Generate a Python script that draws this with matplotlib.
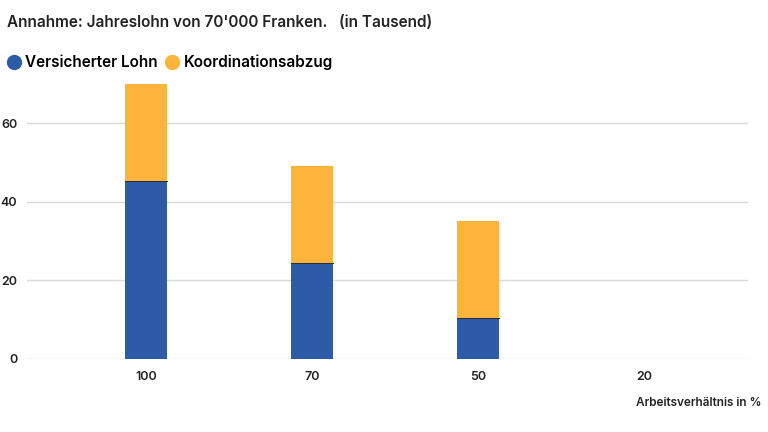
import matplotlib.pyplot as plt
from matplotlib.lines import Line2D

plt.rcParams['font.family'] = ['Inter', 'DejaVu Sans']

# Arbeitsverhaeltnis in %
kategorien = ['100', '70', '50', '20']
versicherter_lohn = [45.3, 24.3, 10.3, 0]
koordinationsabzug = [24.7, 24.7, 24.7, 0]

blau = '#2e5ba8'
gelb = '#fcb43d'

fig = plt.figure(figsize=(7.68, 4.32), dpi=100)
ax = fig.add_axes([0.035, 0.169, 0.939, 0.6555])

x = list(range(len(kategorien)))
ax.bar(x, versicherter_lohn, width=0.253, color=blau, zorder=3)
ax.bar(x, koordinationsabzug, width=0.253, bottom=versicherter_lohn, color=gelb, zorder=3)
# dunkle Trennlinie zwischen den Segmenten
for xi, v in zip(x, versicherter_lohn):
    if v > 0:
        ax.plot([xi - 0.1265, xi + 0.1265], [v, v], color='#2a2a3a', linewidth=0.7, zorder=4)

ax.set_xlim(-0.717, 3.627)
ax.set_ylim(0, 72)
ax.set_yticks([0, 20, 40, 60])
ax.set_xticks(x)
ax.set_xticklabels(kategorien)
ax.grid(axis='y', color='#d9d9d9', linewidth=1, zorder=0)
for s in ax.spines.values():
    s.set_visible(False)
ax.tick_params(length=0, labelsize=9, colors='#222222')
ax.tick_params(axis='y', pad=7)
ax.tick_params(axis='x', pad=9)
for t in ax.get_xticklabels() + ax.get_yticklabels():
    t.set_fontweight('semibold')

fig.text(0.009, 0.947, "Annahme: Jahreslohn von 70'000 Franken.   (in Tausend)",
         fontsize=11, fontweight='semibold', color='#222222', va='center')

handles = [Line2D([], [], marker='o', linestyle='', markersize=10, color=blau),
           Line2D([], [], marker='o', linestyle='', markersize=10, color=gelb)]
fig.legend(handles, ['Versicherter Lohn', 'Koordinationsabzug'],
           loc='center left', bbox_to_anchor=(-0.007, 0.855), ncol=2, frameon=False,
           handletextpad=0.2, columnspacing=0.4, borderpad=0.2,
           handlelength=1.1, prop={'weight': 'semibold', 'size': 11})

fig.text(0.992, 0.067, 'Arbeitsverhältnis in %', fontsize=8.5, fontweight='semibold',
         color='#222222', ha='right', va='center')

fig.savefig('out.png', dpi=100)
